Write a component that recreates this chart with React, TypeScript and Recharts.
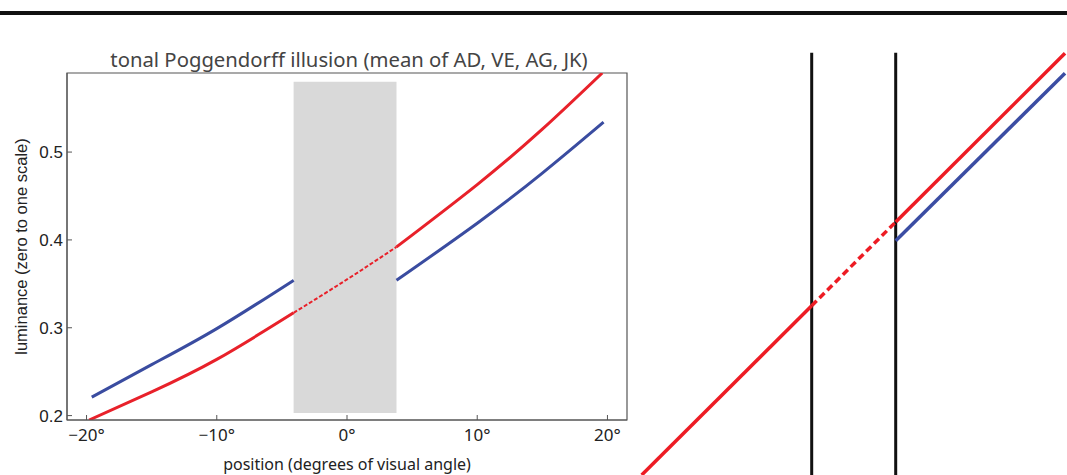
import { Label, Line, LineChart, ReferenceArea, XAxis, YAxis } from 'recharts';

// left plot: mean luminance settings vs position
const xTicks = [-20, -10, 0, 10, 20];
const yTicks = [0.2, 0.3, 0.4, 0.5];
const xDomain = [-21.5, 21.5];
const yDomain = [0.195, 0.59];

// occluder (grey bar) extent
const barX = [-4.1, 3.8];
const barY = [0.203, 0.58];

const blueLeft = [
   { pos: -19.6, lum: 0.221 },
   { pos: -15, lum: 0.258 },
   { pos: -10, lum: 0.299 },
   { pos: -4.1, lum: 0.354 },
];
const blueRight = [
   { pos: 3.8, lum: 0.354 },
   { pos: 10, lum: 0.419 },
   { pos: 15, lum: 0.476 },
   { pos: 19.7, lum: 0.534 },
];
const redLeft = [
   { pos: -19.8, lum: 0.195 },
   { pos: -15, lum: 0.227 },
   { pos: -10, lum: 0.264 },
   { pos: -4.1, lum: 0.317 },
];
const redHidden = [
   { pos: -4.1, lum: 0.317 },
   { pos: 0, lum: 0.355 },
   { pos: 3.8, lum: 0.392 },
];
const redRight = [
   { pos: 3.8, lum: 0.392 },
   { pos: 10, lum: 0.463 },
   { pos: 15, lum: 0.526 },
   { pos: 19.6, lum: 0.59 },
];

// right schematic (arbitrary units)
const diagDomainU = [0, 44.7];
const diagDomainV = [0, 47.5];
const diagRedA = [
   { u: 2.17, v: 0 },
   { u: 19.17, v: 16.93 },
];
const diagRedDashed = [
   { u: 19.17, v: 16.93 },
   { u: 27.57, v: 25.3 },
];
const diagRedB = [
   { u: 27.57, v: 25.3 },
   { u: 44.5, v: 42.17 },
];
const diagBlue = [
   { u: 27.57, v: 23.43 },
   { u: 44.5, v: 40.17 },
];
const diagBarLeft = [
   { u: 19.17, v: 0 },
   { u: 19.17, v: 42.23 },
];
const diagBarRight = [
   { u: 27.57, v: 0 },
   { u: 27.57, v: 42.23 },
];

const RED = '#e8212a';
const BLUE = '#3a4ca0';
const FRAME = '#555';
const handFont = '"Noto Sans", sans-serif';
const plainFont = '"Liberation Sans", Arial, sans-serif';

const fmtDeg = (v: number) => (v < 0 ? `\u2212${-v}°` : `${v}°`);

function PoggendorffPlot() {
   return (
      <LineChart width={640} height={475} margin={{ top: 73, right: 13, bottom: 0, left: 0 }}>
         <ReferenceArea
            x1={barX[0]}
            x2={barX[1]}
            y1={barY[0]}
            y2={barY[1]}
            fill="#d9d9d9"
            fillOpacity={1}
            stroke="none"
         />
         {/* plot frame */}
         <ReferenceArea
            x1={xDomain[0]}
            x2={xDomain[1]}
            y1={yDomain[0]}
            y2={yDomain[1]}
            fill="none"
            stroke={FRAME}
            strokeWidth={1.2}
         />
         <XAxis
            dataKey="pos"
            type="number"
            domain={xDomain}
            ticks={xTicks}
            tickFormatter={fmtDeg}
            height={55}
            stroke={FRAME}
            tickSize={-5}
            tickMargin={14}
            tick={{ fill: '#222', fontSize: 17, fontFamily: handFont }}
            allowDataOverflow
         >
            <Label
               content={(p: any) => {
                  const vb = p.viewBox;
                  return (
                     <text
                        x={vb.x + vb.width / 2}
                        y={vb.y + vb.height - 5}
                        textAnchor="middle"
                        fill="#222"
                        fontSize={16}
                        fontFamily={handFont}
                     >
                        position (degrees of visual angle)
                     </text>
                  );
               }}
            />
         </XAxis>
         <YAxis
            dataKey="lum"
            type="number"
            domain={yDomain}
            ticks={yTicks}
            tickFormatter={(v: number) => v.toFixed(1)}
            width={67}
            stroke={FRAME}
            tickSize={-5}
            tickMargin={9}
            tick={{ fill: '#222', fontSize: 17, fontFamily: plainFont }}
            allowDataOverflow
         >
            <Label
               content={(p: any) => {
                  const vb = p.viewBox;
                  const cx = vb.x + 21;
                  const cy = vb.y + vb.height / 2;
                  return (
                     <text
                        x={cx}
                        y={cy}
                        transform={`rotate(-90 ${cx} ${cy})`}
                        textAnchor="middle"
                        dominantBaseline="central"
                        fill="#222"
                        fontSize={16.5}
                        fontFamily={plainFont}
                     >
                        luminance (zero to one scale)
                     </text>
                  );
               }}
            />
         </YAxis>
         <Line data={blueLeft} dataKey="lum" type="natural" stroke={BLUE} strokeWidth={3} dot={false} isAnimationActive={false} />
         <Line data={blueRight} dataKey="lum" type="natural" stroke={BLUE} strokeWidth={3} dot={false} isAnimationActive={false} />
         <Line data={redLeft} dataKey="lum" type="natural" stroke={RED} strokeWidth={3} dot={false} isAnimationActive={false} />
         <Line
            data={redHidden}
            dataKey="lum"
            type="natural"
            stroke={RED}
            strokeWidth={2}
            strokeDasharray="4 2"
            dot={false}
            isAnimationActive={false}
         />
         <Line data={redRight} dataKey="lum" type="natural" stroke={RED} strokeWidth={3} dot={false} isAnimationActive={false} />
      </LineChart>
   );
}

function Schematic() {
   return (
      <LineChart width={447} height={475} margin={{ top: 0, right: 0, bottom: 0, left: 0 }}>
         <XAxis dataKey="u" type="number" domain={diagDomainU} hide />
         <YAxis dataKey="v" type="number" domain={diagDomainV} hide />
         <Line data={diagBarLeft} dataKey="v" type="linear" stroke="#111" strokeWidth={3} dot={false} isAnimationActive={false} />
         <Line data={diagBarRight} dataKey="v" type="linear" stroke="#111" strokeWidth={3} dot={false} isAnimationActive={false} />
         <Line data={diagRedA} dataKey="v" type="linear" stroke="#ed1c24" strokeWidth={3.5} dot={false} isAnimationActive={false} />
         <Line
            data={diagRedDashed}
            dataKey="v"
            type="linear"
            stroke="#ed1c24"
            strokeWidth={3.5}
            strokeDasharray="7 4"
            dot={false}
            isAnimationActive={false}
         />
         <Line data={diagRedB} dataKey="v" type="linear" stroke="#ed1c24" strokeWidth={3.5} dot={false} isAnimationActive={false} />
         <Line data={diagBlue} dataKey="v" type="linear" stroke="#3b4da3" strokeWidth={3.5} dot={false} isAnimationActive={false} />
      </LineChart>
   );
}

export default function App() {
   return (
      <div
         style={{
            position: 'absolute',
            left: 0,
            top: 0,
            width: 1067,
            height: 475,
            overflow: 'hidden',
            background: '#fff',
         }}
      >
         <div style={{ position: 'absolute', left: 0, top: 11, width: 1067, height: 4, background: '#111' }} />
         <div style={{ position: 'absolute', left: 620, top: 0 }}>
            <Schematic />
         </div>
         <div style={{ position: 'absolute', left: 0, top: 0 }}>
            <PoggendorffPlot />
         </div>
         <svg width={700} height={80} style={{ position: 'absolute', left: 0, top: 0 }}>
            <text x={349} y={67} textAnchor="middle" fill="#444" fontSize={20.3} fontFamily={handFont}>
               tonal Poggendorff illusion (mean of AD, VE, AG, JK)
            </text>
         </svg>
      </div>
   );
}
